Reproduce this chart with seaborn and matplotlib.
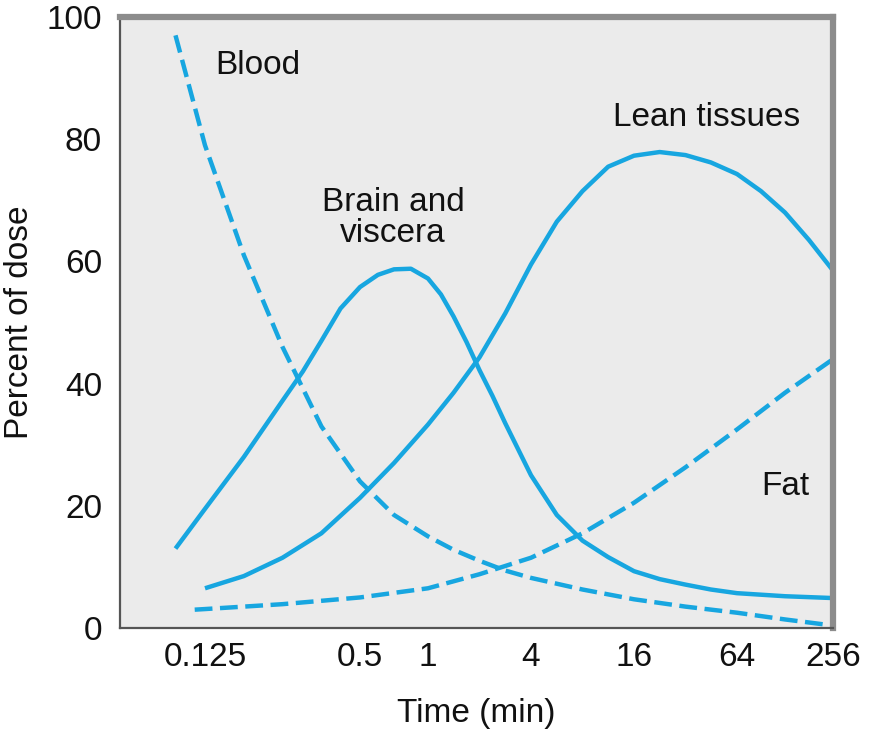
import numpy as np
import pandas as pd
import matplotlib
matplotlib.use('Agg')
import matplotlib.pyplot as plt
import seaborn as sns

# Werte (Zeit in min, Anteil der Dosis in %)
blood_t = [0.096, 0.125, 0.177, 0.25, 0.354, 0.5, 0.707, 1, 1.41, 2, 2.83, 4, 8, 16, 32, 64, 128, 256]
blood_v = [97, 79, 61, 46, 33, 24, 18.5, 15, 12.8, 11, 9.4, 8.2, 6.3, 4.7, 3.5, 2.5, 1.4, 0.4]

brain_t = [0.096, 0.125, 0.177, 0.25, 0.3, 0.354, 0.42, 0.5, 0.6, 0.707, 0.84, 1, 1.19, 1.41,
           1.68, 2, 2.38, 2.83, 4, 5.66, 8, 11.3, 16, 22.6, 32, 45, 64, 128, 256]
brain_v = [13, 19.5, 28, 37.2, 42, 47, 52.3, 55.8, 57.8, 58.7, 58.8, 57.2, 54.6, 51,
           46.8, 42.2, 38, 33.5, 25, 18.5, 14.3, 11.6, 9.3, 8, 7.1, 6.3, 5.7, 5.2, 4.9]

lean_t = [0.125, 0.177, 0.25, 0.354, 0.5, 0.707, 1, 1.41, 2, 2.83, 4, 5.66, 8, 11.3, 16, 22.6,
          32, 45, 64, 90.5, 128, 181, 256]
lean_v = [6.5, 8.5, 11.5, 15.5, 21.3, 27, 33.3, 38.5, 44.3, 51.5, 59.5, 66.5, 71.5, 75.5, 77.3, 77.9,
          77.4, 76.2, 74.3, 71.5, 68, 63.5, 58.5]

fat_t = [0.114, 0.125, 0.25, 0.5, 1, 2, 4, 8, 16, 32, 64, 128, 256]
fat_v = [3, 3.1, 3.9, 5, 6.5, 8.8, 11.5, 15.5, 20.5, 26.3, 32.5, 38.5, 44]

x_ticks = [0.125, 0.5, 1, 4, 16, 64, 256]
x_ticklabels = ['0.125', '0.5', '1', '4', '16', '64', '256']
y_ticks = [0, 20, 40, 60, 80, 100]

# Die Zeitachse im Original ist nicht gleichmaessig logarithmisch:
# Stuetzstellen log2(t) -> Position auf der Achse
log_knots = np.array([-4.2, -3, -1, 0, 2, 4, 6, 8, 8.3])
pos_knots = np.array([112, 205, 360, 428, 531, 634, 737, 833, 847.4])


def forward(t):
    t = np.clip(np.asarray(t, dtype=float), 1e-6, None)
    return np.interp(np.log2(t), log_knots, pos_knots)


def inverse(p):
    return 2.0 ** np.interp(np.asarray(p, dtype=float), pos_knots, log_knots)


blue = '#17a6e0'
sns.set_style('white')
plt.rcParams['font.family'] = ['Liberation Sans', 'DejaVu Sans']

fig = plt.figure(figsize=(8.76, 7.4), dpi=100)
ax = fig.add_axes([120 / 876, 1 - 628 / 740, 713 / 876, 611 / 740])
ax.set_facecolor('#ebebeb')

series = [
    (blood_t, blood_v, True),
    (brain_t, brain_v, False),
    (lean_t, lean_v, False),
    (fat_t, fat_v, True),
]
for t, v, dashed in series:
    df = pd.DataFrame({'Zeit': t, 'Dosis': v})
    sns.lineplot(data=df, x='Zeit', y='Dosis', ax=ax, color=blue, linewidth=3.2,
                 solid_capstyle='butt', dash_capstyle='butt',
                 solid_joinstyle='round', dash_joinstyle='round')
    if dashed:
        ax.lines[-1].set_dashes((4.0, 1.7))

ax.set_xscale('function', functions=(forward, inverse))
ax.set_xlim(inverse(120), 256)
ax.set_ylim(0, 100)

ax.set_xticks(x_ticks)
ax.set_xticklabels(x_ticklabels)
ax.set_yticks(y_ticks)
ax.minorticks_off()
ax.tick_params(axis='both', direction='in', length=12, width=1.3, color='#444444',
               labelsize=24, labelcolor='#111111')
ax.tick_params(axis='x', pad=10)
ax.tick_params(axis='y', pad=13)

ax.set_xlabel('Time (min)', fontsize=24, color='#111111', labelpad=18)
ax.set_ylabel('Percent of dose', fontsize=24, color='#111111', labelpad=8)

for side in ['left', 'bottom']:
    ax.spines[side].set_color('#555555')
    ax.spines[side].set_linewidth(1.6)
for side in ['top', 'right']:
    ax.spines[side].set_color('#8c8c8c')
    ax.spines[side].set_linewidth(4.5)

txt = dict(transform=ax.transAxes, fontsize=24, color='#111111', ha='center', va='center')
ax.text(0.1935, 0.921, 'Blood', **txt)
ax.text(0.383, 0.671, 'Brain and\nviscera', linespacing=1.0, **txt)
ax.text(0.823, 0.836, 'Lean tissues', **txt)
ax.text(0.933, 0.231, 'Fat', **txt)

fig.savefig('out.png', dpi=100)
